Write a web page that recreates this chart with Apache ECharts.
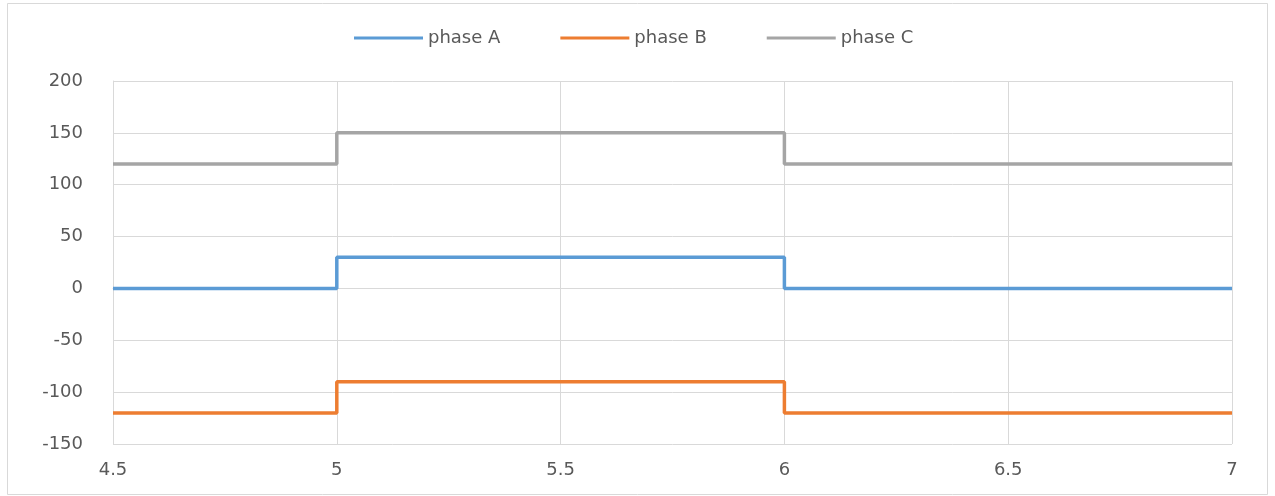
<!DOCTYPE html>
<html>
<head>
<meta charset="utf-8">
<script src="https://cdn.jsdelivr.net/npm/echarts@6/dist/echarts.min.js"></script>
<style>
  html, body { margin: 0; padding: 0; background: #fff; }
  #chart { width: 1275px; height: 496px; }
</style>
</head>
<body>
<div id="chart"></div>
<script>
// Breakpoints along the time axis; each value holds until the next breakpoint
const xBreaks = [4.5, 5, 6, 7];
const phaseA = [0, 30, 0, 0];
const phaseB = [-120, -90, -120, -120];
const phaseC = [120, 150, 120, 120];
const seriesNames = ['phase A', 'phase B', 'phase C'];
const seriesColors = ['#5B9BD5', '#ED7D31', '#A5A5A5'];

const FONT = 'DejaVu Sans';
const TEXT = '#595959';
const GRID = '#D9D9D9';

function pairs(vals) {
  return xBreaks.map((x, i) => [x, vals[i]]);
}

const chart = echarts.init(document.getElementById('chart'), null, { renderer: 'canvas' });

chart.setOption({
  animation: false,
  backgroundColor: '#ffffff',
  graphic: [{
    type: 'rect',
    shape: { x: 7.5, y: 3.5, width: 1260, height: 491 },
    style: { fill: 'none', stroke: GRID, lineWidth: 1 },
    silent: true
  }],
  legend: {
    top: 29,
    left: 354,
    padding: 0,
    itemWidth: 69,
    itemHeight: 3,
    itemGap: 60,
    icon: 'rect',
    textStyle: { fontFamily: FONT, fontSize: 18, color: TEXT },
    data: seriesNames
  },
  grid: { left: 113, right: 43, top: 81, bottom: 52, containLabel: false },
  xAxis: {
    type: 'value',
    min: 4.5,
    max: 7,
    interval: 0.5,
    axisLine: { show: true, lineStyle: { color: GRID, width: 1 } },
    axisTick: { show: false },
    axisLabel: { fontFamily: FONT, fontSize: 18, color: TEXT, margin: 17 },
    splitLine: { show: true, lineStyle: { color: GRID, width: 1 } }
  },
  yAxis: {
    type: 'value',
    min: -150,
    max: 200,
    interval: 50,
    axisLine: { show: true, lineStyle: { color: GRID, width: 1 } },
    axisTick: { show: false },
    axisLabel: { fontFamily: FONT, fontSize: 18, color: TEXT, margin: 30 },
    splitLine: { show: true, lineStyle: { color: GRID, width: 1 } }
  },
  series: [phaseA, phaseB, phaseC].map((vals, i) => ({
    name: seriesNames[i],
    type: 'line',
    step: 'end',
    data: pairs(vals),
    showSymbol: false,
    symbol: 'none',
    color: seriesColors[i],
    lineStyle: { color: seriesColors[i], width: 3.5 }
  }))
});
</script>
</body>
</html>
